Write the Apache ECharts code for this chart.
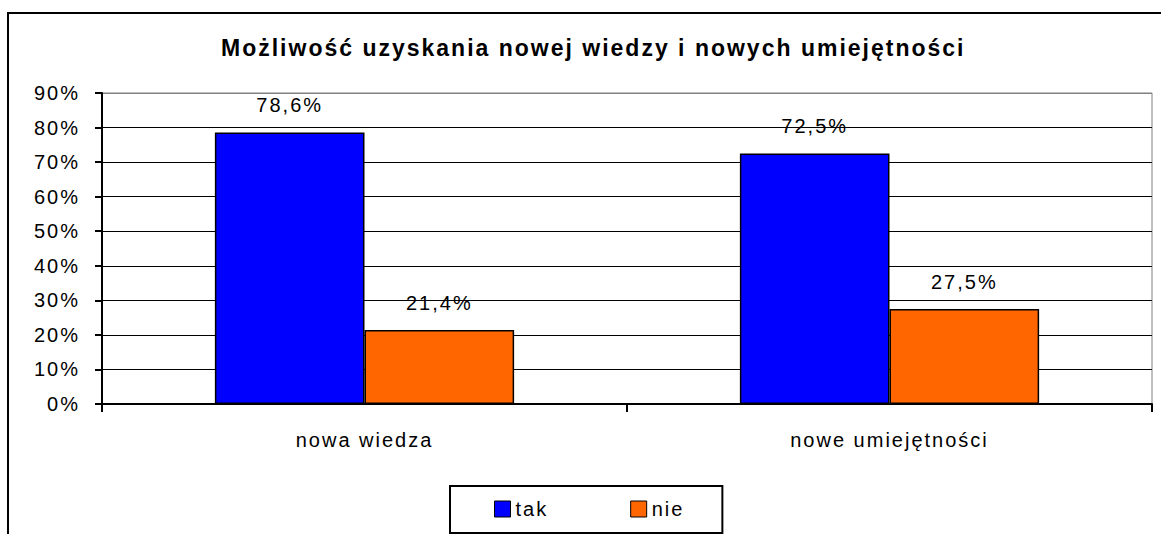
<!DOCTYPE html>
<html>
<head>
<meta charset="utf-8">
<script src="https://cdn.jsdelivr.net/npm/echarts@6/dist/echarts.min.js"></script>
<style>
html,body{margin:0;padding:0;background:#fff;}
#main{width:1161px;height:534px;}
/* stary wykres z Excela ma rozstrzelone litery */
#main text{letter-spacing:2px;}
</style>
</head>
<body>
<div id="main"></div>
<script>
// dane z wykresu
var categories = ['nowa wiedza', 'nowe umiejętności'];
var takValues = [78.6, 72.5];
var nieValues = [21.4, 27.5];
var yTicks = [0, 10, 20, 30, 40, 50, 60, 70, 80, 90];

var font = '"Liberation Sans", Arial, sans-serif';

var myChart = echarts.init(document.getElementById('main'), null, {renderer: 'svg'});

function pct(v){
	return String(v.toFixed(1)).replace('.', ',') + '%';
}

// linia 90% pokrywa się z szarą ramką obszaru wykresu
var gridColors = yTicks.map(function(t, i){ return i == yTicks.length - 1 ? '#808080' : '#000'; });

var options = {
	animation: false,
	backgroundColor: '#fff',
	title: {
		text: 'Możliwość uzyskania nowej wiedzy i nowych umiejętności',
		left: 216,
		top: 31,
		textStyle: {
			fontFamily: font,
			fontSize: 23,
			fontWeight: 'bold',
			color: '#000'
		}
	},
	graphic: [{
		type: 'rect',
		z: -10,
		shape: {x: 8, y: 13, width: 1300, height: 700},
		style: {fill: null, stroke: '#000', lineWidth: 2}
	}],
	legend: {
		data: ['tak', 'nie'],
		left: 450,
		top: 486,
		padding: [13, 44, 14, 44],
		itemGap: 88,
		itemWidth: 16,
		itemHeight: 16,
		itemStyle: {borderColor: '#000', borderWidth: 1},
		backgroundColor: '#fff',
		borderColor: '#000',
		borderWidth: 2,
		icon: 'rect',
		textStyle: {fontFamily: font, fontSize: 20, color: '#000'}
	},
	grid: {
		left: 102,
		right: 9,
		top: 93,
		bottom: 130,
		show: true,
		borderColor: '#808080',
		borderWidth: 1,
		containLabel: false
	},
	xAxis: {
		type: 'category',
		data: categories,
		axisLine: {lineStyle: {color: '#000', width: 2}},
		axisTick: {show: true, length: 8, lineStyle: {color: '#000', width: 2}},
		axisLabel: {
			fontFamily: font,
			fontSize: 20,
			color: '#000',
			margin: 26
		}
	},
	yAxis: {
		type: 'value',
		min: yTicks[0],
		max: yTicks[yTicks.length - 1],
		interval: 10,
		axisLine: {show: true, lineStyle: {color: '#000', width: 2}},
		axisTick: {show: true, length: 7, lineStyle: {color: '#000', width: 2}},
		splitLine: {lineStyle: {color: gridColors, width: 1}},
		axisLabel: {
			formatter: '{value}%',
			fontFamily: font,
			fontSize: 20,
			color: '#000',
			margin: 22
		}
	},
	series: [
		{
			name: 'tak',
			type: 'bar',
			data: takValues,
			barGap: '0%',
			barCategoryGap: '43%',
			itemStyle: {color: '#0000FF', borderColor: '#000', borderWidth: 1.5},
			label: {
				show: true,
				position: 'top',
				distance: 17,
				formatter: function(p){ return pct(p.value); },
				fontFamily: font,
				fontSize: 20,
				color: '#000'
			}
		},
		{
			name: 'nie',
			type: 'bar',
			data: nieValues,
			itemStyle: {color: '#FF6600', borderColor: '#000', borderWidth: 1.5},
			label: {
				show: true,
				position: 'top',
				distance: 17,
				formatter: function(p){ return pct(p.value); },
				fontFamily: font,
				fontSize: 20,
				color: '#000'
			}
		}
	]
};

myChart.setOption(options);
</script>
</body>
</html>
